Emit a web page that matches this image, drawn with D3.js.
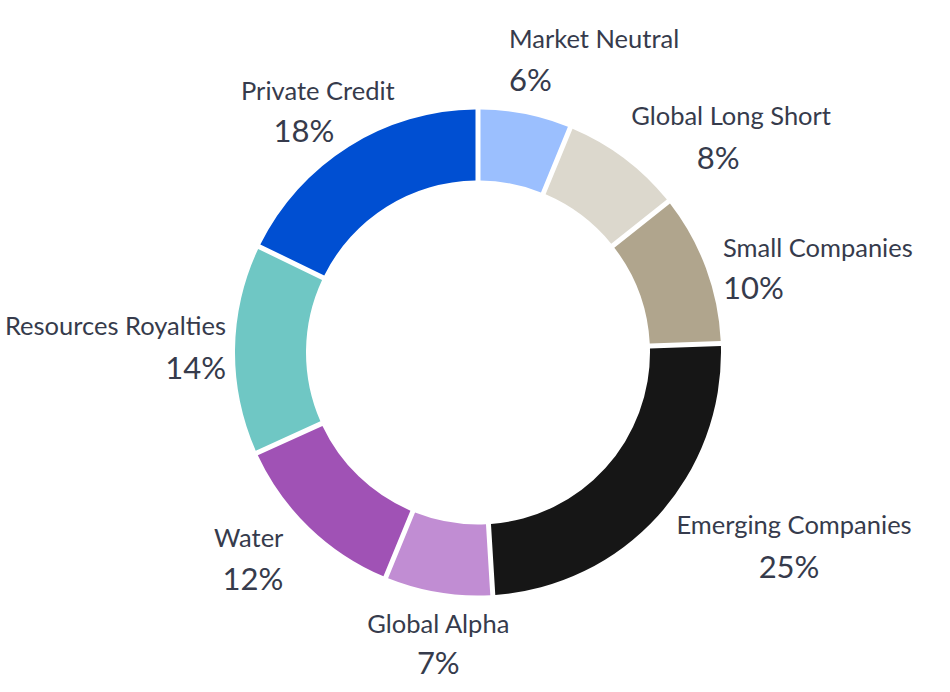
<!DOCTYPE html>
<html>
<head>
<meta charset="utf-8">
<script src="https://cdn.jsdelivr.net/npm/d3@7"></script>
<style>
  html, body { margin: 0; padding: 0; background: #ffffff; }
  svg { display: block; }
  text { font-family: Lato, "Open Sans", sans-serif; fill: #363b4c; }
</style>
</head>
<body>
<svg id="chart" width="950" height="692"></svg>
<script>
// ---- data ----
const categories = ["Market Neutral", "Global Long Short", "Small Companies", "Emerging Companies",
                    "Global Alpha", "Water", "Resources Royalties", "Private Credit"];
const values = [6, 8, 10, 25, 7, 12, 14, 18];
const colors = ["#9bbffe", "#dcd8cd", "#b0a58d", "#161616", "#c18dd3", "#a052b5", "#6fc7c4", "#004fd2"];

// ---- layout (label placement relative to the slice's outer mid-point) ----
const labelLayout = [
  { anchor: "start",  ndx: -16, ndy: -66, pdx: -16, pdy: -23 },
  { anchor: "middle", ndx: 107, ndy: -33, pdx: 94,  pdy: 11 },
  { anchor: "start",  ndx: 17,  ndy: -11, pdx: 17,  pdy: 31 },
  { anchor: "middle", ndx: 136, ndy: 18,  pdx: 131, pdy: 62 },
  { anchor: "middle", ndx: 0,   ndy: 41,  pdx: 0,   pdy: 82 },
  { anchor: "end",    ndx: -26, ndy: 20,  pdx: -26, pdy: 63 },
  { anchor: "end",    ndx: -9,  ndy: -15, pdx: -9,  pdy: 29 },
  { anchor: "middle", ndx: -31, ndy: -47, pdx: -45, pdy: -5 }
];

const cx = 478, cy = 352.5;
const outerR = 243, innerR = 172;
const gap = 5;

const svg = d3.select("#chart");
const g = svg.append("g").attr("transform", `translate(${cx},${cy})`);

const data = categories.map((c, i) => ({ name: c, value: values[i], color: colors[i], layout: labelLayout[i] }));

const padR = Math.sqrt(outerR * outerR + innerR * innerR) / Math.SQRT2;
const pie = d3.pie().value(d => d.value).sort(null).padAngle(gap / padR);
const arc = d3.arc().innerRadius(innerR).outerRadius(outerR).padRadius(padR);

const arcs = pie(data);

g.selectAll("path.slice")
  .data(arcs)
  .join("path")
  .attr("class", "slice")
  .attr("d", arc)
  .attr("fill", d => d.data.color);

const mid = d => (d.startAngle + d.endAngle) / 2;
const outerPt = d => [outerR * Math.sin(mid(d)), -outerR * Math.cos(mid(d))];

const labels = g.selectAll("g.label")
  .data(arcs)
  .join("g")
  .attr("class", "label");

labels.append("text")
  .attr("x", d => outerPt(d)[0] + d.data.layout.ndx)
  .attr("y", d => outerPt(d)[1] + d.data.layout.ndy)
  .attr("text-anchor", d => d.data.layout.anchor)
  .style("font-size", "25.5px")
  .text(d => d.data.name);

labels.append("text")
  .attr("x", d => outerPt(d)[0] + d.data.layout.pdx)
  .attr("y", d => outerPt(d)[1] + d.data.layout.pdy)
  .attr("text-anchor", d => d.data.layout.anchor)
  .style("font-size", "31px")
  .text(d => d.data.value + "%");
</script>
</body>
</html>
